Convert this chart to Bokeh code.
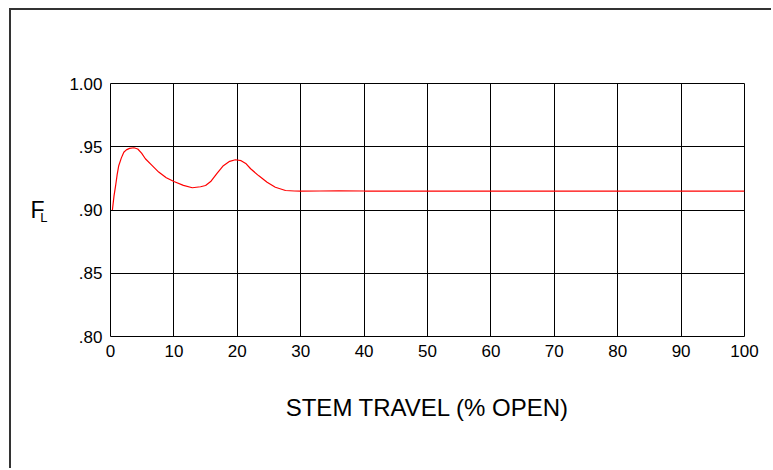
from bokeh.plotting import figure
from bokeh.models import FixedTicker, LinearAxis, Range1d
from bokeh.embed import file_html
from bokeh.resources import INLINE

# Data
stem_travel = [0.3, 0.55, 0.8, 1.05, 1.3, 1.7, 2.1, 2.5, 3.0, 3.7, 4.3, 4.9, 5.5, 6.5,
               7.6, 8.8, 10.0, 11.5, 12.9, 14.2, 15.0, 15.8, 16.8, 17.8, 18.8, 19.7,
               20.6, 21.4, 22.1, 23.4, 24.7, 26.0, 27.6, 29.0, 30.0, 33.0, 36.0, 40.0,
               50.0, 60.0, 70.0, 80.0, 90.0, 100.0]
f_l = [0.900, 0.911, 0.919, 0.928, 0.935, 0.941, 0.9457, 0.9475, 0.9487, 0.9492,
       0.9482, 0.9450, 0.9405, 0.9355, 0.9300, 0.9255, 0.9225, 0.9195, 0.9176,
       0.9184, 0.9194, 0.9225, 0.9290, 0.9350, 0.9385, 0.9397, 0.9390, 0.9365,
       0.9326, 0.9270, 0.9220, 0.9180, 0.9154, 0.9150, 0.9149, 0.9150, 0.9152,
       0.9150, 0.9150, 0.9150, 0.9150, 0.9150, 0.9150, 0.9150]

x_ticks = [0, 10, 20, 30, 40, 50, 60, 70, 80, 90, 100]
y_ticks = [0.80, 0.85, 0.90, 0.95, 1.00]
y_tick_labels = {0.80: ".80", 0.85: ".85", 0.90: ".90", 0.95: ".95", 1.00: "1.00"}
x_label = "STEM TRAVEL (% OPEN)"
y_label_main = "F"
y_label_sub = "L"

FONT = "Liberation Sans"

p = figure(width=762, height=460, output_backend="svg", toolbar_location=None,
           x_range=Range1d(0, 100), y_range=Range1d(0.80, 1.00),
           min_border_left=99, min_border_right=29, min_border_top=73, min_border_bottom=134)
p.margin = (8, 0, 0, 9)
p.styles = {"border-left": "2px solid #333333", "border-top": "2px solid #333333"}

p.outline_line_color = "black"
p.outline_line_width = 1
p.background_fill_color = "white"
p.border_fill_color = "white"

p.xaxis.ticker = FixedTicker(ticks=x_ticks)
p.yaxis.ticker = FixedTicker(ticks=y_ticks)
p.yaxis.major_label_overrides = y_tick_labels

for ax in (p.xaxis, p.yaxis):
    ax.major_tick_out = 0
    ax.major_tick_in = 0
    ax.minor_tick_out = 0
    ax.minor_tick_in = 0
    ax.axis_line_color = None
    ax.major_label_text_font = FONT
    ax.major_label_text_font_size = "17px"
    ax.major_label_text_color = "black"
    ax.major_label_standoff = 8

p.xaxis.axis_label = x_label
p.xaxis.axis_label_text_font = FONT
p.xaxis.axis_label_text_font_size = "24px"
p.xaxis.axis_label_text_font_style = "normal"
p.xaxis.axis_label_text_color = "black"
p.xaxis.axis_label_standoff = 34

# subscript "L" as the label of the tick-bearing y axis (pushed down by an empty line)
yax = p.yaxis[0]
yax.axis_label = "\n" + y_label_sub
yax.axis_label_orientation = "horizontal"
yax.axis_label_text_font = FONT
yax.axis_label_text_font_size = "13px"
yax.axis_label_text_font_style = "normal"
yax.axis_label_text_color = "black"
yax.axis_label_text_baseline = "top"
yax.axis_label_text_line_height = 1.0
yax.axis_label_standoff = 19

# main "F" as the label of an outer, tick-less axis
f_axis = LinearAxis(ticker=FixedTicker(ticks=[]), axis_line_color=None,
                    major_tick_out=0, major_tick_in=0, minor_tick_out=0, minor_tick_in=0,
                    axis_label=y_label_main, axis_label_orientation="horizontal",
                    axis_label_text_font=FONT, axis_label_text_font_size="23px",
                    axis_label_text_font_style="normal", axis_label_text_color="black",
                    axis_label_text_baseline="middle", axis_label_standoff=-7)
p.add_layout(f_axis, "left")

p.xgrid.grid_line_color = "black"
p.ygrid.grid_line_color = "black"
p.xgrid.grid_line_width = 1
p.ygrid.grid_line_width = 1
p.xgrid.grid_line_alpha = 1
p.ygrid.grid_line_alpha = 1

p.line(stem_travel, f_l, line_color="#ff0000", line_width=1.2)

open("out.html", "w").write(file_html(p, INLINE))
